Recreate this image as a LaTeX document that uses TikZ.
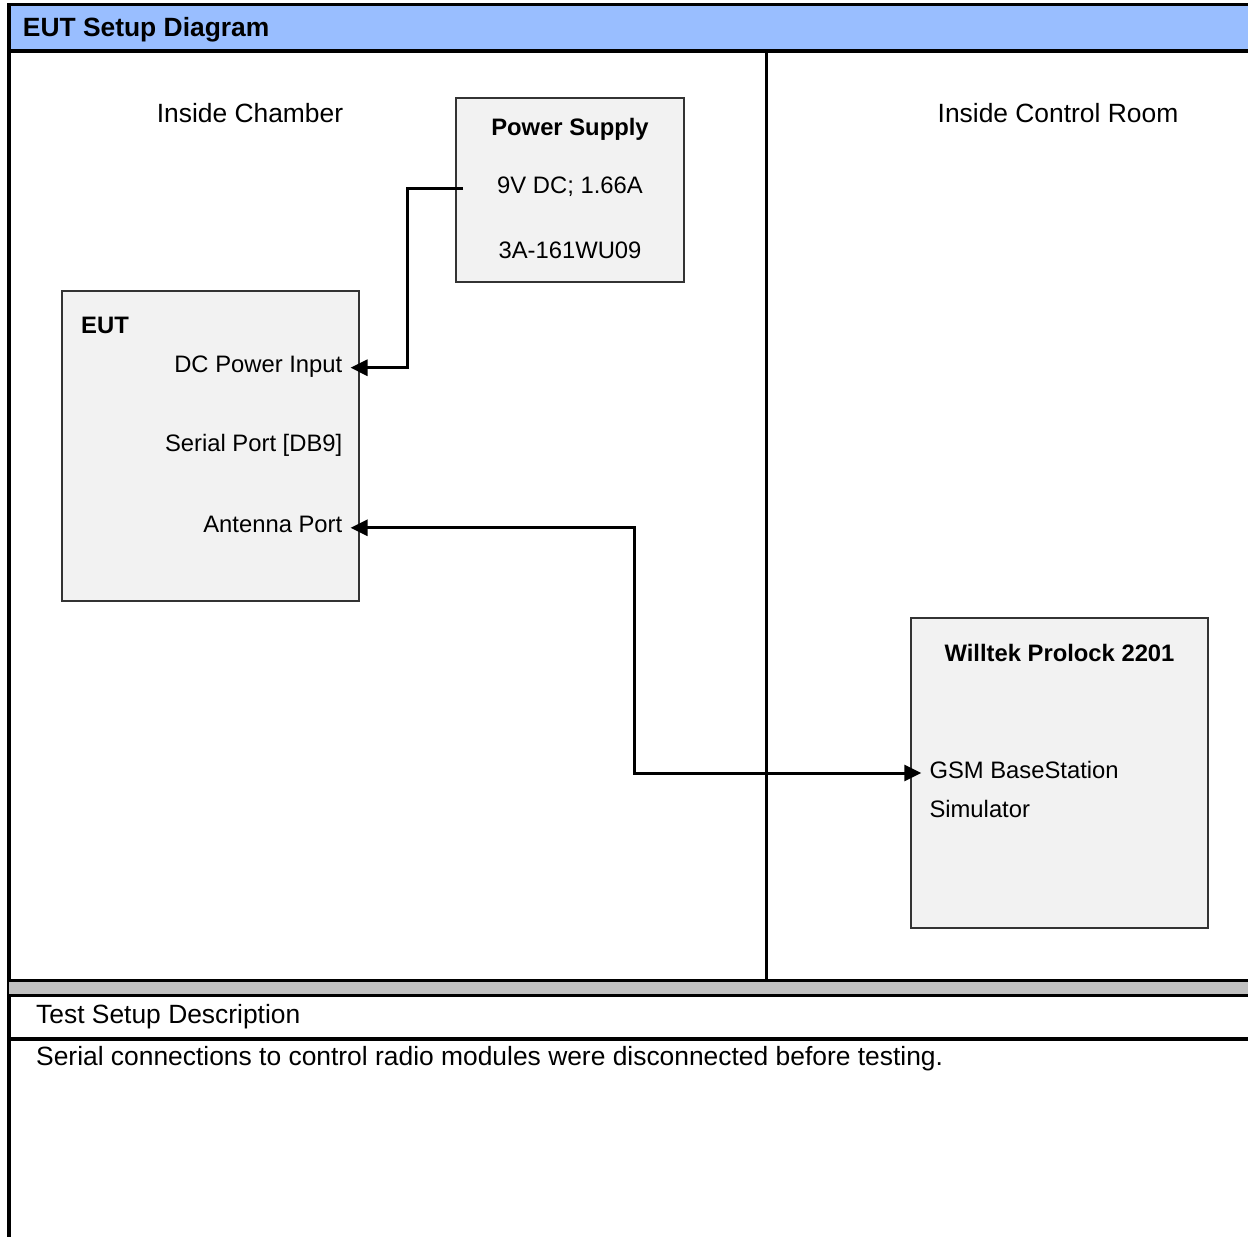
\documentclass[tikz,border=0pt]{standalone}
\usepackage{fontspec}
\setmainfont{Liberation Sans}
\usetikzlibrary{arrows.meta}
\definecolor{hdrblue}{RGB}{153,190,255}
\definecolor{bandgray}{RGB}{192,192,192}
\definecolor{boxfill}{RGB}{242,242,242}
\begin{document}
\begin{tikzpicture}[x=1pt,y=-1pt,
  big/.style={font=\fontsize{26.4}{30}\selectfont, inner sep=0pt},
  bigb/.style={font=\fontsize{26.4}{30}\selectfont\bfseries, inner sep=0pt},
  small/.style={font=\fontsize{23.8}{28}\selectfont, inner sep=0pt},
  smallb/.style={font=\fontsize{23.8}{28}\selectfont\bfseries, inner sep=0pt},
  boxb/.style={draw=black!80, line width=1.5pt, fill=boxfill, inner sep=0pt},
  frame/.style={line width=3.6pt},
  wire/.style={line width=3pt, line join=miter},
  >={Triangle[length=17pt,width=16pt]}]
\useasboundingbox (0,0) rectangle (1248,1237);
% header
\fill[hdrblue] (9,5) rectangle (1248,51);
\draw[line width=3pt] (7,4.5) -- (1248,4.5);
\draw[frame] (9,51) -- (1248,51);
\node[bigb, anchor=base west] (title) at (22.7,36.7) {EUT Setup Diagram};
% left border and divider
\draw[line width=4pt] (9,3) -- (9,1237);
\draw[line width=3.3pt] (766.7,51) -- (766.7,980);
% band
\fill[bandgray] (9,982) rectangle (1248,994);
\draw[line width=3.3pt] (9,980.7) -- (1248,980.7);
\draw[line width=3.8pt] (9,995.5) -- (1248,995.5);
\draw[line width=3.5pt] (9,1039) -- (1248,1039);
\node[big, anchor=base west] (tsd) at (36,1023) {Test Setup Description};
\node[big, anchor=base west] (desc) at (36,1065.3) {Serial connections to control radio modules were disconnected before testing.};
% region labels
\node[big, anchor=base] (chamber) at (250,122.3) {Inside Chamber};
\node[big, anchor=base] (control) at (1058,122.3) {Inside Control Room};
% power supply
\node[boxb, minimum width=228pt, minimum height=184pt, anchor=north west] (ps) at (455,97) {};
\node[smallb, anchor=base] (pst) at (570,135) {Power Supply};
\node[small, anchor=base] (psv) at (570,193.3) {9V DC; 1.66A};
\node[small, anchor=base] (psm) at (570,258.3) {3A-161WU09};
% EUT
\node[boxb, minimum width=297pt, minimum height=310pt, anchor=north west] (eut) at (61,290) {};
\node[smallb, anchor=base west] (eutt) at (81,333.3) {EUT};
\node[small, anchor=base east] (dcin) at (342.5,372.7) {DC Power Input};
\node[small, anchor=base east] (ser) at (342.5,451.7) {Serial Port [DB9]};
\node[small, anchor=base east] (ant) at (342.5,532.3) {Antenna Port};
% Willtek
\node[boxb, minimum width=297pt, minimum height=310pt, anchor=north west] (wt) at (910,617) {};
\node[smallb, anchor=base] (wtt) at (1059.5,661) {Willtek Prolock 2201};
\node[small, anchor=base west] (gsm) at (929.3,778.3) {GSM BaseStation};
\node[small, anchor=base west] (sim) at (929.3,817.3) {Simulator};
% connectors
\coordinate (psout) at ([shift={(8,-4.7)}]psv.base west -| ps.west);
\draw[wire, ->] (psout) -- ++(-56,0) |- ([shift={(8,-5)}]dcin.base east);
\draw[wire, <->] ([shift={(8,-4.5)}]ant.base east) -- ++(283.5,0) |- ([shift={(-8,-5.3)}]gsm.base west);
\end{tikzpicture}
\end{document}
